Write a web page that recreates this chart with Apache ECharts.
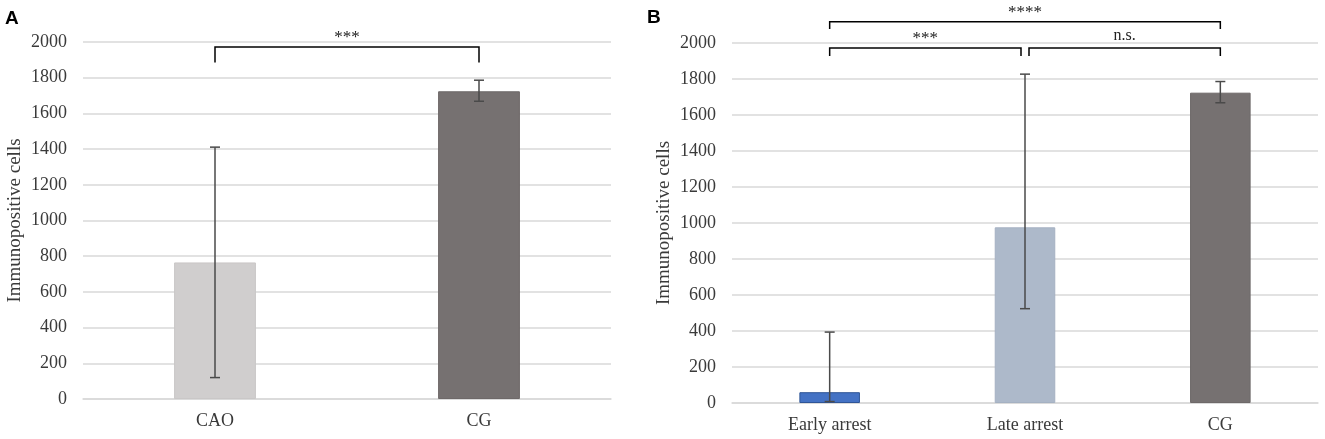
<!DOCTYPE html>
<html>
<head>
<meta charset="utf-8">
<script src="https://cdn.jsdelivr.net/npm/echarts@6/dist/echarts.min.js"></script>
<style>
  html, body { margin: 0; padding: 0; background: #fff; }
  #chart { width: 1325px; height: 439px; }
</style>
</head>
<body>
<div id="chart"></div>
<script>
// panel A
var categoriesA = ['CAO', 'CG'];
var meansA = [765, 1724];
var errLowA = [120, 1668];
var errHighA = [1411, 1786];
var colorsA = ['#D0CECE', '#767171'];

// panel B
var categoriesB = ['Early arrest', 'Late arrest', 'CG'];
var meansB = [60, 976, 1724];
var errLowB = [8, 524, 1668];
var errHighB = [394, 1827, 1786];
var colorsB = ['#4472C4', '#ADB9CA', '#767171'];

var yTicks = { min: 0, max: 2000, interval: 200 };

// significance brackets: [from, to, line level, leg end, label]
var bracketsA = [
    [0, 1, 1972, 1885, '***']
];
var bracketsB = [
    [0, 2, 2118, 2078, '****'],
    [0, 1, 1972, 1928, '***'],
    [1, 2, 1972, 1928, 'n.s.']
];

var serif = '"Liberation Serif", "Times New Roman", serif';
var textCol = '#3a3a3a';

function barData(vals, cols, border) {
    return vals.map(function (v, i) {
        return { value: v, itemStyle: { color: cols[i], borderColor: border[i], borderWidth: 1 } };
    });
}

function errData(low, high) {
    return low.map(function (l, i) { return [i, l, high[i]]; });
}

function renderErr(params, api) {
    var lo = api.coord([api.value(0), api.value(1)]);
    var hi = api.coord([api.value(0), api.value(2)]);
    var cap = 5;
    var st = { stroke: '#4a4a4a', lineWidth: 1.5 };
    return {
        type: 'group',
        children: [
            { type: 'line', shape: { x1: lo[0], y1: lo[1], x2: hi[0], y2: hi[1] }, style: st },
            { type: 'line', shape: { x1: hi[0] - cap, y1: hi[1], x2: hi[0] + cap, y2: hi[1] }, style: st },
            { type: 'line', shape: { x1: lo[0] - cap, y1: lo[1], x2: lo[0] + cap, y2: lo[1] }, style: st }
        ]
    };
}

function makeBracketRenderer(list) {
    return function (params, api) {
        var b = list[params.dataIndex];
        var p1 = api.coord([api.value(0), api.value(2)]);
        var p2 = api.coord([api.value(1), api.value(2)]);
        var leg = api.coord([api.value(0), api.value(3)]);
        var x1 = p1[0], x2 = p2[0];
        // leave a little gap where two brackets meet on the same bar
        list.forEach(function (o) {
            if (o === b || o[2] !== b[2]) return;
            if (o[0] === b[1]) x2 -= 4;
            if (o[1] === b[0]) x1 += 4;
        });
        // asterisks sit high in the glyph box, so they need less lift
        var stars = b[4].indexOf('*') === 0;
        var st = { stroke: '#000', lineWidth: 1.5, fill: null };
        return {
            type: 'group',
            children: [
                { type: 'polyline', shape: { points: [[x1, leg[1]], [x1, p1[1]], [x2, p1[1]], [x2, leg[1]]] }, style: st },
                { type: 'text', x: (x1 + x2) / 2, y: p1[1] - (stars ? 1 : 4),
                  style: { text: b[4], font: (stars ? '17px ' : '16px ') + serif, fill: '#222', align: 'center', verticalAlign: 'bottom' } }
            ]
        };
    };
}

function bracketData(list) {
    return list.map(function (b) { return [b[0], b[1], b[2], b[3]]; });
}

function xAxisCfg(cats, idx) {
    return {
        type: 'category', gridIndex: idx, data: cats,
        axisTick: { show: false },
        axisLine: { lineStyle: { color: '#D9D9D9', width: 1.5 } },
        axisLabel: { color: textCol, fontFamily: serif, fontSize: 18, margin: 13 }
    };
}

function yAxisCfg(idx) {
    return {
        type: 'value', gridIndex: idx,
        min: yTicks.min, max: yTicks.max, interval: yTicks.interval,
        name: 'Immunopositive cells', nameLocation: 'middle', nameGap: 58,
        nameTextStyle: { color: textCol, fontFamily: serif, fontSize: 19 },
        axisLine: { show: false }, axisTick: { show: false },
        axisLabel: { color: textCol, fontFamily: serif, fontSize: 18, margin: 16,
                     formatter: function (v) { return String(v); } },
        splitLine: { lineStyle: { color: '#D9D9D9', width: 1.5 } }
    };
}

var chart = echarts.init(document.getElementById('chart'));
var option = {
    animation: false,
    backgroundColor: '#fff',
    grid: [
        { left: 83, right: 714, top: 42, bottom: 40 },
        { left: 732, right: 7, top: 43, bottom: 36 }
    ],
    xAxis: [xAxisCfg(categoriesA, 0), xAxisCfg(categoriesB, 1)],
    yAxis: [yAxisCfg(0), yAxisCfg(1)],
    graphic: [
        { type: 'text', left: 5, top: 9, style: { text: 'A', font: 'bold 19px "Liberation Sans", Arial, sans-serif', fill: '#000' } },
        { type: 'text', left: 647, top: 8, style: { text: 'B', font: 'bold 19px "Liberation Sans", Arial, sans-serif', fill: '#000' } }
    ],
    series: [
        { type: 'bar', xAxisIndex: 0, yAxisIndex: 0, barWidth: '31%',
          data: barData(meansA, colorsA, ['#C9C7C7', '#6E6969']) },
        { type: 'custom', xAxisIndex: 0, yAxisIndex: 0, z: 3, renderItem: renderErr,
          encode: { x: 0, y: [1, 2] }, data: errData(errLowA, errHighA) },
        { type: 'custom', xAxisIndex: 0, yAxisIndex: 0, z: 4, clip: false,
          renderItem: makeBracketRenderer(bracketsA), encode: { x: [0, 1], y: [2, 3] },
          data: bracketData(bracketsA) },
        { type: 'bar', xAxisIndex: 1, yAxisIndex: 1, barWidth: '31%',
          data: barData(meansB, colorsB, ['#2F5597', '#A5B1C2', '#6E6969']) },
        { type: 'custom', xAxisIndex: 1, yAxisIndex: 1, z: 3, renderItem: renderErr,
          encode: { x: 0, y: [1, 2] }, data: errData(errLowB, errHighB) },
        { type: 'custom', xAxisIndex: 1, yAxisIndex: 1, z: 4, clip: false,
          renderItem: makeBracketRenderer(bracketsB), encode: { x: [0, 1], y: [2, 3] },
          data: bracketData(bracketsB) }
    ]
};
chart.setOption(option);
</script>
</body>
</html>
